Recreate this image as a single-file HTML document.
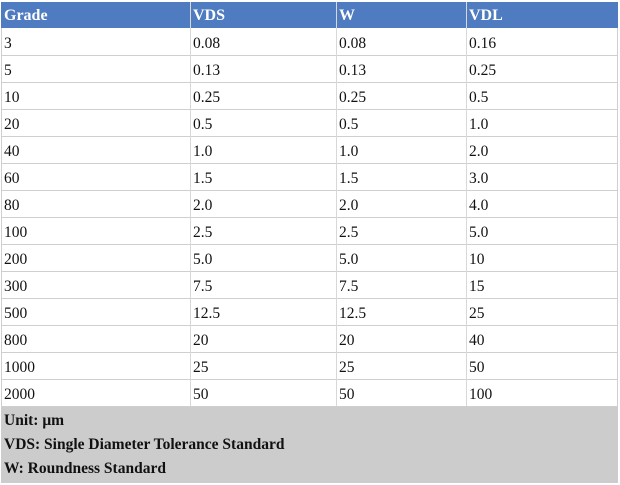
<!DOCTYPE html>
<html><head><meta charset="utf-8"><style>
body{margin:0;width:620px;height:485px;background:#fff;font-family:"Liberation Serif",serif;font-size:15.5px;color:#111;position:relative;overflow:hidden}
.c{position:absolute;box-sizing:border-box;padding-left:3px;padding-top:2px;line-height:27px;height:27px;white-space:nowrap}
.h{color:#fff;font-weight:bold;font-size:16px;line-height:26px;height:26px;padding-top:1px}
.vl{position:absolute;width:1px;background:#cfcfcf}
.hl{position:absolute;height:1px;background:#cfcfcf;left:1px;width:617px}
.f{position:absolute;left:4px;font-weight:bold;font-size:15.5px}
</style></head><body>
<div style="position:absolute;left:1px;top:2px;width:617px;height:26px;background:#4f7bc0"></div>
<div style="position:absolute;left:1px;top:406px;width:617px;height:77px;background:#cccccc"></div>
<div id="t"></div>
<div class="f" style="top:412px">Unit: μm</div>
<div class="f" style="top:436px">VDS: Single Diameter Tolerance Standard</div>
<div class="f" style="top:460px">W: Roundness Standard</div>
<script>
const headers=["Grade","VDS","W","VDL"];
const grades=["3","5","10","20","40","60","80","100","200","300","500","800","1000","2000"];
const vds=["0.08","0.13","0.25","0.5","1.0","1.5","2.0","2.5","5.0","7.5","12.5","20","25","50"];
const w=["0.08","0.13","0.25","0.5","1.0","1.5","2.0","2.5","5.0","7.5","12.5","20","25","50"];
const vdl=["0.16","0.25","0.5","1.0","2.0","3.0","4.0","5.0","10","15","25","40","50","100"];
const xs=[1,190,336,466,618];
const t=document.getElementById('t');
function cell(txt,x,y,cls,name){const d=document.createElement('div');d.className='c '+cls;d.style.left=x+'px';d.style.top=y+'px';d.textContent=txt;


t.appendChild(d);}
headers.forEach((h,i)=>cell(h,xs[i],2,'h','header-'+h.toLowerCase()));
const cols=[grades,vds,w,vdl];
for(let r=0;r<grades.length;r++){const y=28+r*27;
cols.forEach((c,i)=>cell(c[r],xs[i],y,'',headers[i].toLowerCase()+'-cell'));
const l=document.createElement('div');l.className='hl';l.style.top=(y+27)+'px';


t.appendChild(l);}
xs.forEach((x,i)=>{const v=document.createElement('div');v.className='vl';v.style.left=(i==4?x-1:x)+'px';v.style.top=(i==0||i==4?28:2)+'px';v.style.height=(i==0||i==4?378:404)+'px';if(i>0&&i<4)v.style.background='#d8d8d8';


t.appendChild(v);});
</script>
</body></html>
